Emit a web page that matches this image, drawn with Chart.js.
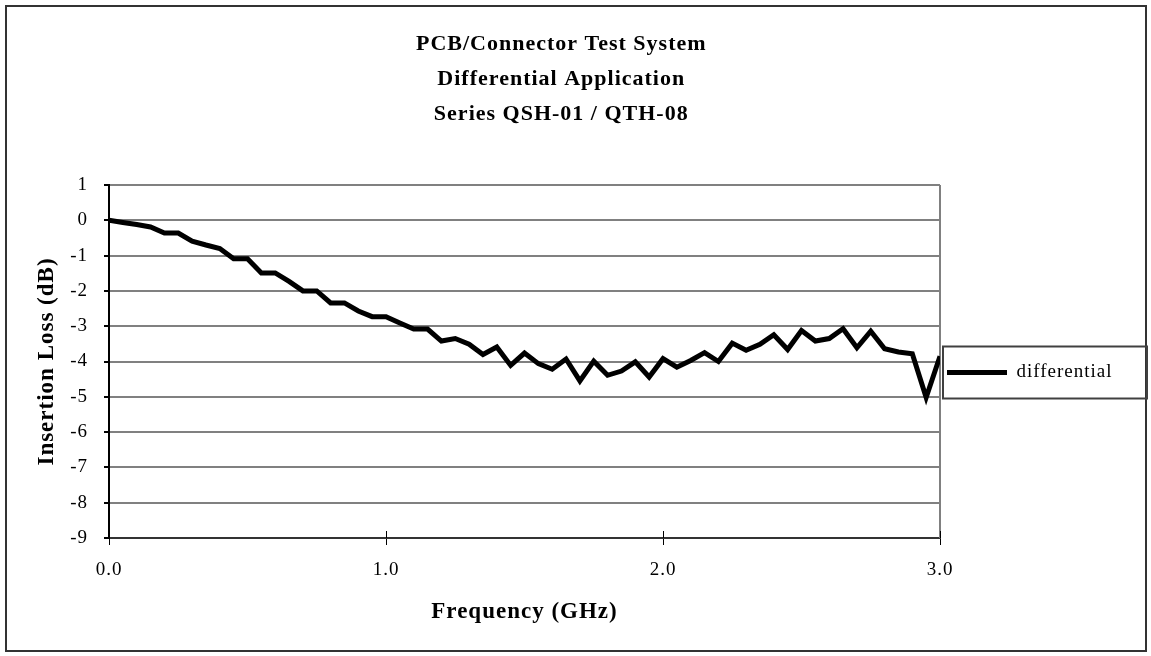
<!DOCTYPE html>
<html>
<head>
<meta charset="utf-8">
<title>PCB/Connector Test System</title>
<script src="https://cdn.jsdelivr.net/npm/chart.js@4.4.0/dist/chart.umd.min.js"></script>
<style>
  html, body { margin: 0; padding: 0; background: #fff; overflow: hidden; }
  #wrap { position: relative; width: 1151px; height: 656px; }
</style>
</head>
<body>
<div id="wrap"><canvas id="grafico"></canvas></div>
<script>
// Dados (frequência em GHz, perda de inserção em dB)
var frequencias = [
  0.00, 0.05, 0.10, 0.15, 0.20, 0.25, 0.30, 0.35, 0.40, 0.45,
  0.50, 0.55, 0.60, 0.65, 0.70, 0.75, 0.80, 0.85, 0.90, 0.95,
  1.00, 1.05, 1.10, 1.15, 1.20, 1.25, 1.30, 1.35, 1.40, 1.45,
  1.50, 1.55, 1.60, 1.65, 1.70, 1.75, 1.80, 1.85, 1.90, 1.95,
  2.00, 2.05, 2.10, 2.15, 2.20, 2.25, 2.30, 2.35, 2.40, 2.45,
  2.50, 2.55, 2.60, 2.65, 2.70, 2.75, 2.80, 2.85, 2.90, 2.95,
  3.00
];
var perdaDiferencial = [
  0.00, -0.06, -0.12, -0.19, -0.36, -0.36, -0.59, -0.70, -0.80, -1.09,
  -1.09, -1.49, -1.49, -1.73, -2.00, -2.00, -2.34, -2.34, -2.57, -2.73,
  -2.73, -2.91, -3.08, -3.08, -3.42, -3.35, -3.51, -3.80, -3.59, -4.11,
  -3.76, -4.06, -4.22, -3.93, -4.55, -3.99, -4.39, -4.27, -4.01, -4.44,
  -3.92, -4.16, -3.97, -3.75, -4.00, -3.48, -3.68, -3.51, -3.24, -3.66,
  -3.12, -3.42, -3.35, -3.07, -3.61, -3.14, -3.64, -3.73, -3.78, -5.02,
  -3.85
];
var titulo = ['PCB/Connector Test System', 'Differential Application', 'Series QSH-01 / QTH-08'];
var nomeSerie = 'differential';
var tituloX = 'Frequency (GHz)';
var tituloY = 'Insertion Loss (dB)';

var fonte = "'Liberation Serif', 'Times New Roman', serif";
var espacamento = '1px';   // o Excel espaça um pouco as letras

// Legenda: calcula a largura para que a área do gráfico termine em x = 940
var legFonte = 19, legCaixa = 60, legPad = 7;
function larguraTexto(txt, tam) {
  var c = document.createElement('canvas').getContext('2d');
  c.font = tam + 'px ' + fonte;
  c.letterSpacing = espacamento;
  return c.measureText(txt).width;
}
var larguraLegenda = legPad + legCaixa + legFonte / 2 + larguraTexto(nomeSerie, legFonte) + 10;
var padDireita = Math.max(0, 1151 - 940 - larguraLegenda);

// Fundo branco, moldura externa e espaçamento de letras
var moldura = {
  id: 'moldura',
  beforeLayout: function (chart) { chart.ctx.letterSpacing = espacamento; },
  beforeDraw: function (chart) {
    var ctx = chart.ctx;
    ctx.letterSpacing = espacamento;
    ctx.save();
    ctx.fillStyle = '#ffffff';
    ctx.fillRect(0, 0, chart.width, chart.height);
    ctx.strokeStyle = '#333333';
    ctx.lineWidth = 2;
    ctx.strokeRect(6, 6, chart.width - 11, chart.height - 11);
    ctx.restore();
  }
};

// Borda direita da área do gráfico e marcas que cruzam o eixo X
var bordaArea = {
  id: 'bordaArea',
  beforeDatasetsDraw: function (chart) {
    var ctx = chart.ctx;
    var a = chart.chartArea;
    var x = chart.scales.x;
    ctx.save();
    ctx.strokeStyle = '#808080';
    ctx.lineWidth = 2;
    ctx.beginPath();
    ctx.moveTo(a.right, a.top);
    ctx.lineTo(a.right, a.bottom);
    ctx.stroke();
    ctx.strokeStyle = '#000000';
    ctx.lineWidth = 1;
    x.ticks.forEach(function (t) {
      var px = Math.round(x.getPixelForValue(t.value)) + 0.5;
      ctx.beginPath();
      ctx.moveTo(px, a.bottom - 7);
      ctx.lineTo(px, a.bottom);
      ctx.stroke();
    });
    ctx.restore();
  }
};

// Caixa em volta da legenda
var caixaLegenda = {
  id: 'caixaLegenda',
  afterDraw: function (chart) {
    var leg = chart.legend;
    if (!leg || !leg.legendHitBoxes || !leg.legendHitBoxes.length) return;
    var hb = leg.legendHitBoxes[0];
    var meio = hb.top + hb.height / 2;
    var ctx = chart.ctx;
    ctx.save();
    ctx.strokeStyle = '#404040';
    ctx.lineWidth = 2;
    ctx.strokeRect(leg.left + 3, meio - 26, chart.width - 4 - (leg.left + 3), 52);
    ctx.restore();
  }
};

var ctx = document.getElementById('grafico').getContext('2d');
var grafico = new Chart(ctx, {
  type: 'line',
  data: {
    labels: frequencias,
    datasets: [{
      label: nomeSerie,
      data: frequencias.map(function (f, i) { return { x: f, y: perdaDiferencial[i] }; }),
      borderColor: '#000000',
      backgroundColor: '#000000',
      borderWidth: 5,
      pointRadius: 0,
      tension: 0,
      fill: false
    }]
  },
  options: {
    responsive: true,
    maintainAspectRatio: false,
    animation: false,
    layout: { padding: { left: 0, right: padDireita, top: 0, bottom: 0 } },
    plugins: {
      title: {
        display: true,
        text: titulo,
        color: '#000000',
        font: { family: fonte, size: 22, weight: 'bold', lineHeight: '35px' },
        padding: { top: 27, bottom: 53 }
      },
      legend: {
        display: true,
        position: 'right',
        fullSize: false,
        // título vazio só para descer a legenda até a altura do original
        title: { display: true, text: '', font: { size: 10, lineHeight: '12px' }, padding: 5 },
        labels: {
          color: '#000000',
          font: { family: fonte, size: legFonte },
          boxWidth: legCaixa,
          boxHeight: 0,
          padding: legPad
        }
      },
      tooltip: { enabled: false }
    },
    scales: {
      x: {
        type: 'linear',
        min: 0,
        max: 3,
        afterFit: function (s) { s.height = 118; },
        ticks: {
          stepSize: 1,
          color: '#000000',
          padding: 14,
          maxRotation: 0,
          font: { family: fonte, size: 19 },
          callback: function (v) { return Number(v).toFixed(1); }
        },
        grid: { drawOnChartArea: false, color: '#000000', tickLength: 7, lineWidth: 1 },
        border: { color: '#333333', width: 2 },
        title: {
          display: true,
          text: tituloX,
          color: '#000000',
          font: { family: fonte, size: 23, weight: 'bold' },
          padding: { top: 0, bottom: 30 }
        }
      },
      y: {
        min: -9,
        max: 1,
        afterFit: function (s) { s.width = 109; },
        ticks: {
          stepSize: 1,
          color: '#000000',
          padding: 16,
          font: { family: fonte, size: 19 }
        },
        grid: { color: '#808080', lineWidth: 2, tickColor: '#000000', tickLength: 5 },
        border: { color: '#000000', width: 2 },
        title: {
          display: true,
          text: tituloY,
          color: '#000000',
          font: { family: fonte, size: 23, weight: 'bold' },
          padding: { top: 33, bottom: 0 }
        }
      }
    }
  },
  plugins: [moldura, bordaArea, caixaLegenda]
});
</script>
</body>
</html>
